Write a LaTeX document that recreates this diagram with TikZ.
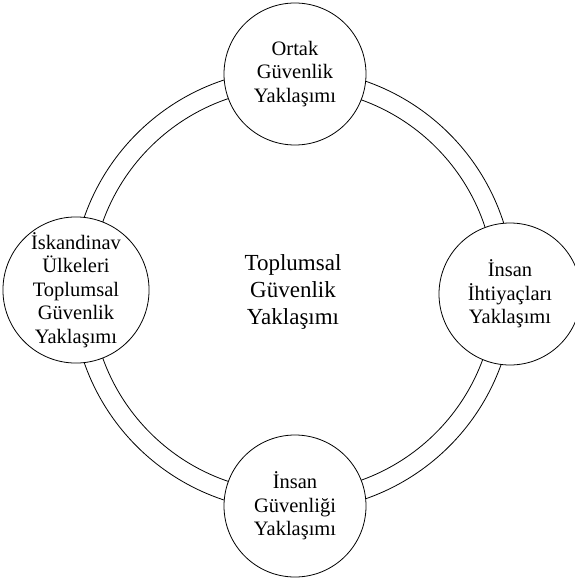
\documentclass[tikz,border=0pt]{standalone}
\usepackage{fontspec}
\setmainfont{Liberation Serif}
\begin{document}
\begin{tikzpicture}[x=1pt,y=1pt,
  approach/.style={circle,draw,line width=0.8pt,fill=white,minimum size=142pt,inner sep=0pt,align=center,font=\fontsize{20.5}{23.5}\selectfont},
  core/.style={align=center,font=\fontsize{23}{27}\selectfont},
  ring/.style={line width=0.8pt}]
\useasboundingbox (0,0) rectangle (574,-583);
\coordinate (c) at (293,-290);
\draw[ring] (c) circle[radius=221];
\draw[ring] (c) circle[radius=202];
\node[core] (center) at (293,-292) {Toplumsal\\Güvenlik\\Yaklaşımı};
\node[approach] (top) at (295,-74) {Ortak\\Güvenlik\\Yaklaşımı};
\node[approach] (left) at (76,-290) {İskandinav\\Ülkeleri\\Toplumsal\\Güvenlik\\Yaklaşımı};
\node[approach] (right) at (510,-294) {İnsan\\İhtiyaçları\\Yaklaşımı};
\node[approach] (bottom) at (295,-506) {İnsan\\Güvenliği\\Yaklaşımı};
\end{tikzpicture}
\end{document}
